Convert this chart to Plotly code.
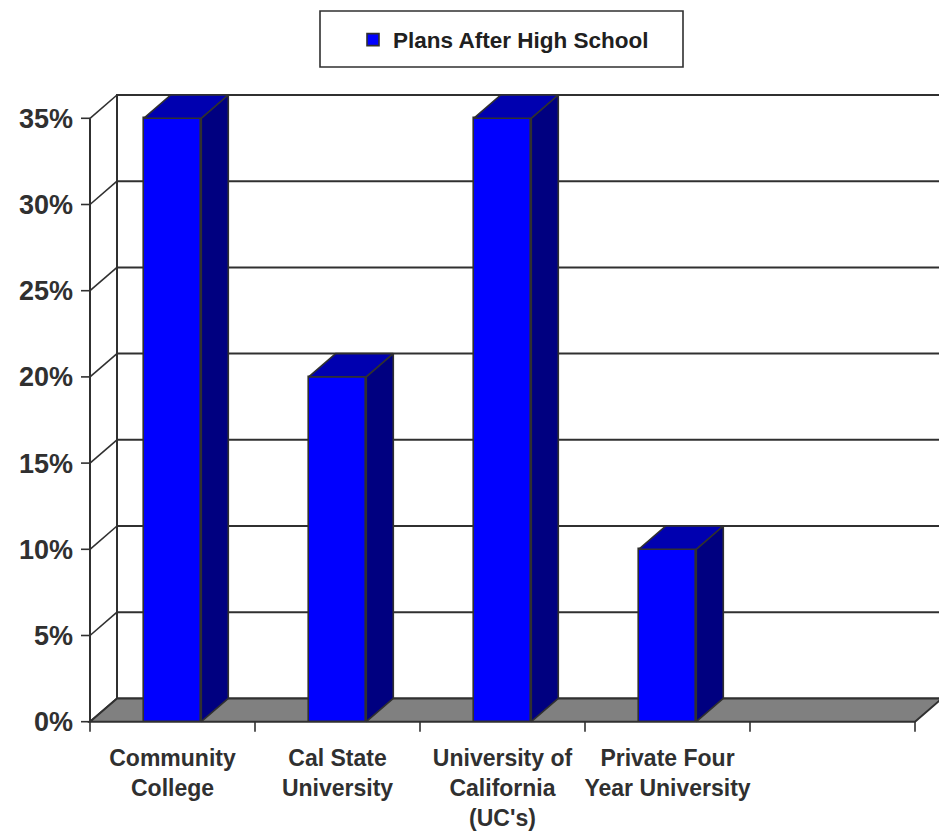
import plotly.graph_objects as go

# ---------------- data ----------------
categories = ["Community<br>College", "Cal State<br>University",
              "University of<br>California<br>(UC's)", "Private Four<br>Year University", ""]
values = [35, 20, 35, 10]          # percent
series_name = "Plans After High School"
y_ticks = [0, 5, 10, 15, 20, 25, 30, 35]

# ---------------- geometry (page pixels -> figure / data units) ----------------
OFF = 8                                 # browser body margin
W, H = 947 - OFF, 839 - OFF
L, R, T, B = 78 - OFF, 946 - OFF, 88 - OFF, 740 - OFF   # plot area (figure px)
FX0, UX = 90.0 - OFF, 165.0             # x px of left front edge, px per category
FY0, UY = 721.7 - OFF, 17.24            # y px of 0%, px per percent
DX = 27.0 / UX                          # depth offset in x units
DY = 23.3 / UY                          # depth offset in y units
BW = 0.349                              # bar width (category units)
n_cat = len(categories)

x_lo = -0.5 - (FX0 - L) / UX
x_hi = -0.5 + (R - FX0) / UX
y_lo = -(B - FY0) / UY
y_hi = (FY0 - T) / UY

def px_x(p):  # page pixel x -> paper
    return (p - OFF - L) / (R - L)

def px_y(p):  # page pixel y -> paper
    return (B - (p - OFF)) / (B - T)

FRONT = "#0000FF"
TOP = "#0000B0"
SIDE = "#000080"
EDGE = "#303030"
FONT = "Liberation Sans, Arial, sans-serif"

xs = list(range(len(values)))
fig = go.Figure()

# front faces
fig.add_trace(go.Bar(x=xs, y=values, width=BW, name=series_name,
                     marker=dict(color=FRONT, line=dict(color=EDGE, width=1.6)),
                     showlegend=True))

# top faces
tx, ty = [], []
for x, v in zip(xs, values):
    a, b = x - BW / 2, x + BW / 2
    tx += [a, b, b + DX, a + DX, a, None]
    ty += [v, v, v + DY, v + DY, v, None]
fig.add_trace(go.Scatter(x=tx, y=ty, mode="lines", fill="toself", fillcolor=TOP,
                         line=dict(color=EDGE, width=1.6), showlegend=False,
                         hoverinfo="skip"))
# side faces
sx, sy = [], []
for x, v in zip(xs, values):
    b = x + BW / 2
    sx += [b, b, b + DX, b + DX, b, None]
    sy += [0, v, v + DY, DY, 0, None]
fig.add_trace(go.Scatter(x=sx, y=sy, mode="lines", fill="toself", fillcolor=SIDE,
                         line=dict(color=EDGE, width=1.6), showlegend=False,
                         hoverinfo="skip"))

shapes = []
xl, xr = -0.5, n_cat - 0.5
# back wall
shapes.append(dict(type="rect", xref="x", yref="y", x0=xl + DX, x1=xr + DX,
                   y0=DY, y1=y_ticks[-1] + DY, line=dict(color=EDGE, width=2),
                   fillcolor="white", layer="below"))
# back wall gridlines and left wall lines
for v in y_ticks:
    if 0 < v < y_ticks[-1]:
        shapes.append(dict(type="line", xref="x", yref="y", x0=xl + DX, x1=xr + DX,
                           y0=v + DY, y1=v + DY, line=dict(color=EDGE, width=2),
                           layer="below"))
    shapes.append(dict(type="line", xref="x", yref="y", x0=xl, x1=xl + DX,
                       y0=v, y1=v + DY, line=dict(color=EDGE, width=1.6),
                       layer="below"))
    # y tick mark
    shapes.append(dict(type="line", xref="x", yref="y", x0=xl - 9 / UX, x1=xl,
                       y0=v, y1=v, line=dict(color=EDGE, width=1.6), layer="below"))
# floor
shapes.append(dict(type="path", xref="x", yref="y",
                   path=f"M{xl},0 L{xr},0 L{xr + DX},{DY} L{xl + DX},{DY} Z",
                   fillcolor="#808080", line=dict(color=EDGE, width=2), layer="below"))
# front vertical axis
shapes.append(dict(type="line", xref="x", yref="y", x0=xl, x1=xl, y0=0, y1=y_ticks[-1],
                   line=dict(color=EDGE, width=2), layer="below"))
# x boundary ticks
for i in range(n_cat + 1):
    shapes.append(dict(type="line", xref="x", yref="y", x0=xl + i, x1=xl + i,
                       y0=0, y1=-10 / UY, line=dict(color=EDGE, width=1.6), layer="below"))
# legend box
shapes.append(dict(type="rect", xref="paper", yref="paper",
                   x0=px_x(320), x1=px_x(683), y0=px_y(67), y1=px_y(11),
                   line=dict(color=EDGE, width=1.6), fillcolor="white", layer="below"))

fig.update_layout(
    width=W, height=H,
    margin=dict(l=L, r=W - R, t=T, b=H - B, pad=0, autoexpand=False),
    paper_bgcolor="white", plot_bgcolor="rgba(0,0,0,0)",
    shapes=shapes,
    showlegend=True,
    legend=dict(x=px_x(353), y=px_y(40), xanchor="left", yanchor="middle",
                bgcolor="rgba(0,0,0,0)", borderwidth=0,
                font=dict(family=FONT, size=22.5, color="#202020", weight="bold")),
    xaxis=dict(range=[x_lo, x_hi], showgrid=False, zeroline=False, showline=False,
               automargin=False,
               tickmode="array", tickvals=list(range(n_cat)), ticktext=categories,
               ticks="", ticklabelstandoff=2,
               tickfont=dict(family=FONT, size=23, color="#303030", weight="bold")),
    yaxis=dict(range=[y_lo, y_hi], showgrid=False, zeroline=False, showline=False,
               automargin=False,
               tickmode="array", tickvals=y_ticks, ticktext=[f"{v}%" for v in y_ticks],
               ticks="", ticklabelstandoff=4,
               tickfont=dict(family=FONT, size=27, color="#303030", weight="bold")),
    bargap=0,
)

fig.write_html("out.html")
